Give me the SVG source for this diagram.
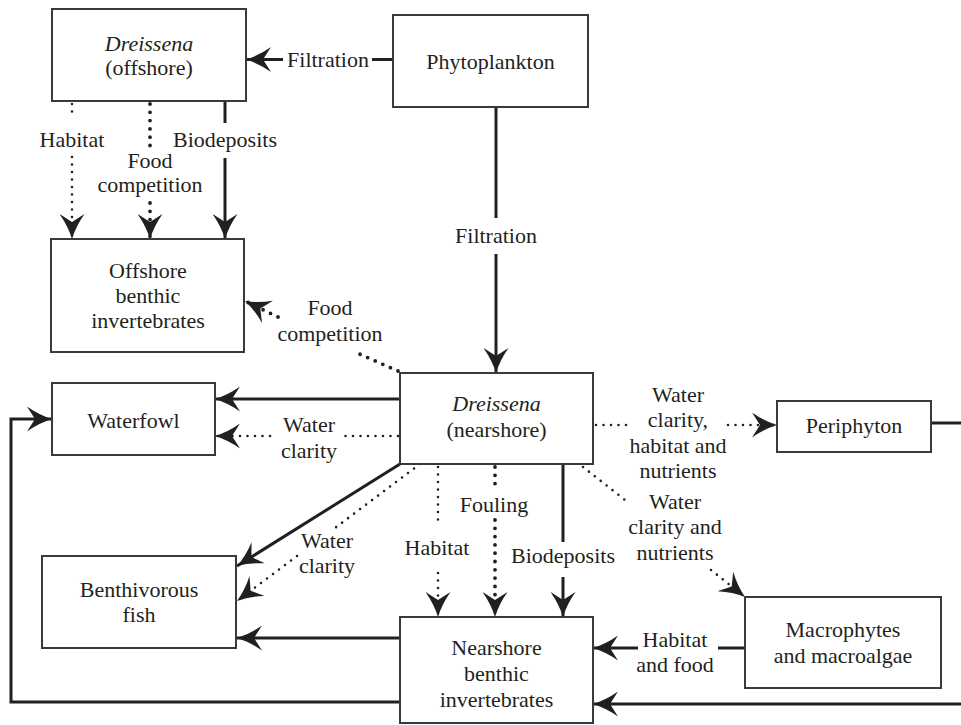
<svg xmlns="http://www.w3.org/2000/svg" width="961" height="725" viewBox="0 0 961 725">
<style>
.box{fill:#fff;stroke:#3a3a3a;stroke-width:2}
text{font-family:'Liberation Serif','Times New Roman',serif;font-size:22px;fill:#231f20;text-anchor:middle}
.i{font-style:italic}
.s{fill:none;stroke:#231f20;stroke-width:3}
.d{fill:none;stroke:#231f20;stroke-width:2.6;stroke-dasharray:0 7.5;stroke-linecap:round}
.dd{fill:none;stroke:#231f20;stroke-width:3.8;stroke-dasharray:0 8.3;stroke-linecap:round}
</style>
<defs>
<marker id="ah" markerUnits="userSpaceOnUse" viewBox="0 0 25 25" markerWidth="25" markerHeight="25" refX="25" refY="12.5" orient="auto">
<path d="M25,12.5 Q12,8.5 0,0 L8,12.5 L0,25 Q12,16.5 25,12.5 Z" fill="#231f20"/>
</marker>
</defs>
<rect width="961" height="725" fill="#fff"/>

<g id="connectors">
<line class="s" x1="393" y1="59.5" x2="372" y2="59.5"/>
<line class="s" x1="283" y1="59.5" x2="246" y2="59.5" marker-end="url(#ah)"/>
<text x="328" y="67">Filtration</text>
<line class="d" x1="72" y1="104" x2="72" y2="118"/>
<line class="d" x1="72" y1="157" x2="72" y2="239" marker-end="url(#ah)"/>
<text x="72" y="147">Habitat</text>
<line class="dd" x1="150" y1="104" x2="150" y2="147"/>
<line class="dd" x1="150" y1="203" x2="150" y2="239" marker-end="url(#ah)"/>
<text x="150" y="168">Food</text>
<text x="150" y="192">competition</text>
<line class="s" x1="225" y1="101" x2="225" y2="123"/>
<line class="s" x1="225" y1="158" x2="225" y2="239" marker-end="url(#ah)"/>
<text x="225" y="147">Biodeposits</text>
<line class="s" x1="496" y1="107" x2="496" y2="218"/>
<line class="s" x1="496" y1="254" x2="496" y2="373" marker-end="url(#ah)"/>
<text x="496" y="243">Filtration</text>
<line class="dd" x1="398" y1="371" x2="355" y2="352"/>
<line class="dd" x1="278" y1="317" x2="245" y2="301" marker-end="url(#ah)"/>
<text x="330" y="315">Food</text>
<text x="330" y="341">competition</text>
<line class="s" x1="400" y1="399" x2="215" y2="399" marker-end="url(#ah)"/>
<line class="d" x1="398" y1="436" x2="340" y2="436"/>
<line class="d" x1="270" y1="436" x2="215" y2="436" marker-end="url(#ah)"/>
<text x="309" y="432">Water</text>
<text x="309" y="458">clarity</text>
<line class="s" x1="400" y1="464" x2="237" y2="566" marker-end="url(#ah)"/>
<line class="d" x1="420" y1="464" x2="335" y2="528"/>
<line class="d" x1="297" y1="556" x2="237" y2="601" marker-end="url(#ah)"/>
<text x="327" y="548">Water</text>
<text x="327" y="573">clarity</text>
<line class="d" x1="438" y1="467" x2="438" y2="527"/>
<line class="d" x1="438" y1="573" x2="438" y2="617" marker-end="url(#ah)"/>
<text x="437" y="555">Habitat</text>
<line class="dd" x1="495" y1="467" x2="495" y2="487"/>
<line class="dd" x1="495" y1="520" x2="495" y2="617" marker-end="url(#ah)"/>
<text x="494" y="512">Fouling</text>
<line class="s" x1="563" y1="464" x2="563" y2="542"/>
<line class="s" x1="563" y1="577" x2="563" y2="617" marker-end="url(#ah)"/>
<text x="563" y="563">Biodeposits</text>
<line class="d" x1="596" y1="425" x2="632" y2="425"/>
<line class="d" x1="728" y1="425" x2="777" y2="425" marker-end="url(#ah)"/>
<text x="678" y="402">Water</text>
<text x="678" y="427">clarity,</text>
<text x="678" y="453">habitat and</text>
<text x="678" y="478">nutrients</text>
<line class="d" x1="583" y1="467" x2="625" y2="500"/>
<line class="d" x1="711" y1="570" x2="745" y2="597" marker-end="url(#ah)"/>
<text x="675" y="509">Water</text>
<text x="675" y="534">clarity and</text>
<text x="675" y="560">nutrients</text>
<line class="s" x1="745" y1="648" x2="718" y2="648"/>
<line class="s" x1="638" y1="648" x2="593" y2="648" marker-end="url(#ah)"/>
<text x="675" y="647">Habitat</text>
<text x="675" y="672">and food</text>
<line class="s" x1="931" y1="423" x2="962" y2="423"/>
<line class="s" x1="962" y1="704" x2="593" y2="704" marker-end="url(#ah)"/>
<line class="s" x1="400" y1="638" x2="237" y2="638" marker-end="url(#ah)"/>
<path class="s" d="M400,702 L11,702 L11,419 L52,419" marker-end="url(#ah)"/>
</g>

<g id="dreissena-offshore">
<rect class="box" x="52" y="9" width="194" height="92"/>
<text class="i" x="149" y="51">Dreissena</text>
<text x="149" y="75">(offshore)</text>
</g>
<g id="phytoplankton">
<rect class="box" x="393" y="15" width="195" height="92"/>
<text x="490.5" y="69">Phytoplankton</text>
</g>
<g id="offshore-benthic">
<rect class="box" x="51" y="239" width="193" height="113"/>
<text x="148" y="278">Offshore</text>
<text x="148" y="303">benthic</text>
<text x="148" y="328">invertebrates</text>
</g>
<g id="dreissena-nearshore">
<rect class="box" x="400" y="373" width="193" height="91"/>
<text class="i" x="496.5" y="411">Dreissena</text>
<text x="496.5" y="437">(nearshore)</text>
</g>
<g id="waterfowl">
<rect class="box" x="52" y="383" width="163" height="72"/>
<text x="133.5" y="428">Waterfowl</text>
</g>
<g id="periphyton">
<rect class="box" x="777" y="401" width="154" height="51"/>
<text x="854" y="433">Periphyton</text>
</g>
<g id="benthivorous-fish">
<rect class="box" x="42" y="556" width="194" height="92"/>
<text x="139" y="597">Benthivorous</text>
<text x="139" y="622">fish</text>
</g>
<g id="macrophytes">
<rect class="box" x="745" y="597" width="196" height="91"/>
<text x="843" y="637">Macrophytes</text>
<text x="843" y="663">and macroalgae</text>
</g>
<g id="nearshore-benthic">
<rect class="box" x="400" y="617" width="193" height="106"/>
<text x="496.5" y="655">Nearshore</text>
<text x="496.5" y="681">benthic</text>
<text x="496.5" y="707">invertebrates</text>
</g>
</svg>
